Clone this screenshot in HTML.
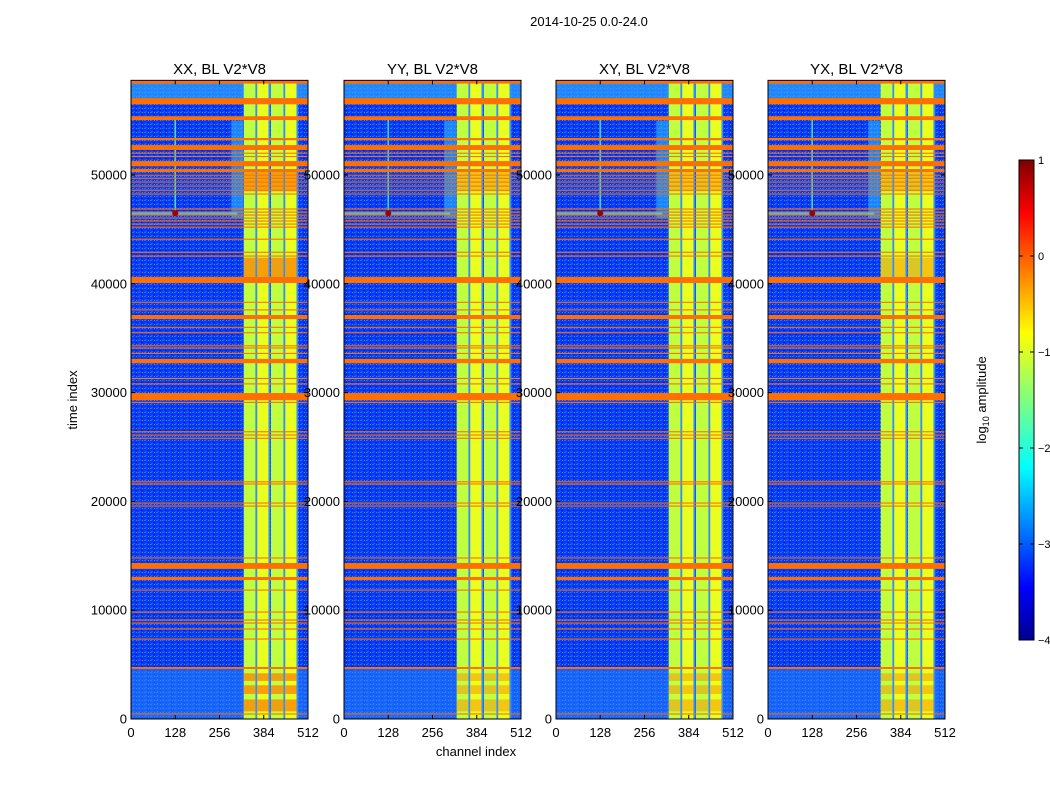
<!DOCTYPE html>
<html><head><meta charset="utf-8"><style>
body{margin:0;background:#fff;}
svg text{font-family:"Liberation Sans",sans-serif;}
</style></head><body>
<svg id="chart" width="1050" height="800" xmlns="http://www.w3.org/2000/svg">
<defs>
<linearGradient id="jet" x1="0" y1="1" x2="0" y2="0">
<stop offset="0" stop-color="#00008f"/><stop offset="0.11" stop-color="#0000ff"/>
<stop offset="0.36" stop-color="#00ffff"/><stop offset="0.5" stop-color="#7fff7f"/>
<stop offset="0.64" stop-color="#ffff00"/><stop offset="0.89" stop-color="#ff0000"/>
<stop offset="1" stop-color="#7f0000"/></linearGradient>
<pattern id="noise" width="6" height="4" patternUnits="userSpaceOnUse">
<rect width="6" height="4" fill="#0838f8"/><rect x="0" y="0" width="2" height="1" fill="#1c70ff"/><rect x="3" y="2" width="2" height="1" fill="#0020e0"/><rect x="4" y="0" width="1" height="1" fill="#2890ff"/><rect x="1" y="3" width="2" height="1" fill="#1458ff"/>
</pattern>
</defs>
<text x="589" y="26" font-size="13" text-anchor="middle">2014-10-25 0.0-24.0</text>
<text transform="translate(77,400) rotate(-90)" font-size="13" text-anchor="middle">time index</text>
<text x="476" y="756" font-size="13" text-anchor="middle">channel index</text>
<g id="panels"></g>
<g>
<rect x="1019" y="160" width="15" height="480" fill="url(#jet)" stroke="#000" stroke-width="1"/>
<g id="cbticks"></g>
<text transform="translate(986,400) rotate(-90)" font-size="13" text-anchor="middle">log<tspan font-size="9" dy="3">10</tspan><tspan dy="-3"> amplitude</tspan></text>
</g>
</svg>
<script>
const panelTitles=["XX, BL V2*V8","YY, BL V2*V8","XY, BL V2*V8","YX, BL V2*V8"];
const xTicks=[0,128,256,384,512];
const yTicks=[0,10000,20000,30000,40000,50000];
const cbTicks=[1,0,-1,-2,-3,-4];
const brightBands=[[326,360],[365,398],[405,441],[446,479]];
const hotBlocks=[[40300,42400],[48500,50500],[700,1800],[2300,3100],[3500,4200]];
const flagRows=[[58400,58700],[56500,57070],[55050,55400],[53200,53400],[52300,52750],[51950,52050],[51650,51750],[50800,51280],[50270,50550],[49950,50030],[49650,49750],[49300,49400],[48930,49030],[48550,48650],[48200,48300],[46820,46920],[46540,46640],[46270,46370],[45990,46090],[45720,45820],[45440,45540],[45160,45260],[44050,44150],[42850,42950],[42500,42600],[40070,40620],[38250,38350],[37550,37650],[36760,37130],[35950,36050],[35450,35550],[34250,34350],[34050,34150],[33550,33650],[32700,33100],[31250,31350],[30750,30850],[29300,29960],[29050,29150],[26350,26450],[26050,26150],[25750,25850],[21750,21850],[21550,21650],[19800,19900],[19520,19620],[14750,14850],[13800,14340],[12770,13050],[11800,11900],[9780,9880],[9050,9150],[8770,8870],[8220,8320],[7300,7400],[4600,4780],[410,510]];
const panelX=[131,344,556,768];
const W=177, Y0=719, PXT=108.8/10000, TMAX=58700;
const NS="http://www.w3.org/2000/svg";
function mk(tag,attrs,parent){const e=document.createElementNS(NS,tag);for(const k in attrs)e.setAttribute(k,attrs[k]);parent.appendChild(e);return e;}
const yS=t=>Y0-t*PXT;
const root=document.getElementById('panels');
panelX.forEach((x0,p)=>{
  const xS=c=>x0+c/512*W;
  const g=mk('g',{},root);
  
  
  const top=yS(TMAX);
  mk('rect',{x:x0,y:top,width:W,height:Y0-top,fill:'url(#noise)'},g);
  mk('rect',{x:x0,y:top,width:W,height:yS(57070)-top,fill:'#30a8ff',opacity:0.7},g);
  mk('rect',{x:x0,y:yS(4700),width:W,height:yS(0)-yS(4700),fill:'#2a8cff',opacity:0.5},g);
  mk('rect',{x:xS(290),y:yS(55000),width:xS(324)-xS(290),height:yS(46000)-yS(55000),fill:'#30b8ff',opacity:0.6},g);
  brightBands.forEach((b,i)=>{
    const r=mk('rect',{x:xS(b[0]),y:top,width:xS(b[1])-xS(b[0]),height:Y0-top,fill:i%2?'#e8ff20':'#c0ff40'},g);
    
    
    mk('rect',{x:xS(b[1]),y:top,width:xS(b[1]+5)-xS(b[1]),height:Y0-top,fill:'#3090ff'},g);
    hotBlocks.forEach(h=>{
      if(p===0||p===3||h[0]<5000||h[0]>48000){
        mk('rect',{x:xS(b[0]),y:yS(h[1]),width:xS(b[1])-xS(b[0]),height:yS(h[0])-yS(h[1]),fill:'#ff8000',opacity:p===0?0.75:0.45},g);
      }
    });
  });
  mk('rect',{x:xS(126),y:yS(55200),width:1.2,height:yS(46500)-yS(55200),fill:'#60ffa0'},g);
  mk('rect',{x:x0,y:yS(46550),width:W*0.6,height:2,fill:'#40e0ff',opacity:0.8},g);
  flagRows.forEach(r=>{
    const h=yS(r[0])-yS(r[1]);
    const e=mk('rect',{x:x0,y:yS(r[1]),width:W,height:Math.max(1,h),fill:'#ff7000'},g);
    
    
  });
  mk('circle',{cx:xS(128),cy:yS(46500),r:3,fill:'#a00000'},g);
  mk('rect',{x:x0,y:top,width:W,height:Y0-top,fill:'none',stroke:'#000','stroke-width':1},g);
  const t=mk('text',{x:x0+W/2,y:74,'font-size':15,'text-anchor':'middle'},g);
  t.textContent=panelTitles[p];
  
  
  xTicks.forEach(c=>{
    const x=xS(c);
    mk('line',{x1:x,x2:x,y1:Y0,y2:Y0-4,stroke:'#000'},g);
    mk('line',{x1:x,x2:x,y1:top,y2:top+4,stroke:'#000'},g);
    const l=mk('text',{x:x,y:737,'font-size':13,'text-anchor':'middle'},g);
    l.textContent=c;
    
    
  });
  yTicks.forEach(v=>{
    const y=yS(v);
    mk('line',{x1:x0,x2:x0+4,y1:y,y2:y,stroke:'#000'},g);
    mk('line',{x1:x0+W,x2:x0+W-4,y1:y,y2:y,stroke:'#000'},g);
    const l=mk('text',{x:x0-4,y:y+4.5,'font-size':13,'text-anchor':'end'},g);
    l.textContent=v;
    
    
  });
});
const cb=document.getElementById('cbticks');
cbTicks.forEach(v=>{
  const y=160+(1-v)/5*480;
  mk('line',{x1:1019,x2:1023,y1:y,y2:y,stroke:'#000'},cb);
  mk('line',{x1:1034,x2:1030,y1:y,y2:y,stroke:'#000'},cb);
  const l=mk('text',{x:1038,y:y+4,'font-size':11,'text-anchor':'start'},cb);
  l.textContent=v<0?'\u2212'+(-v):String(v);
  
  
});
</script>
</body></html>
